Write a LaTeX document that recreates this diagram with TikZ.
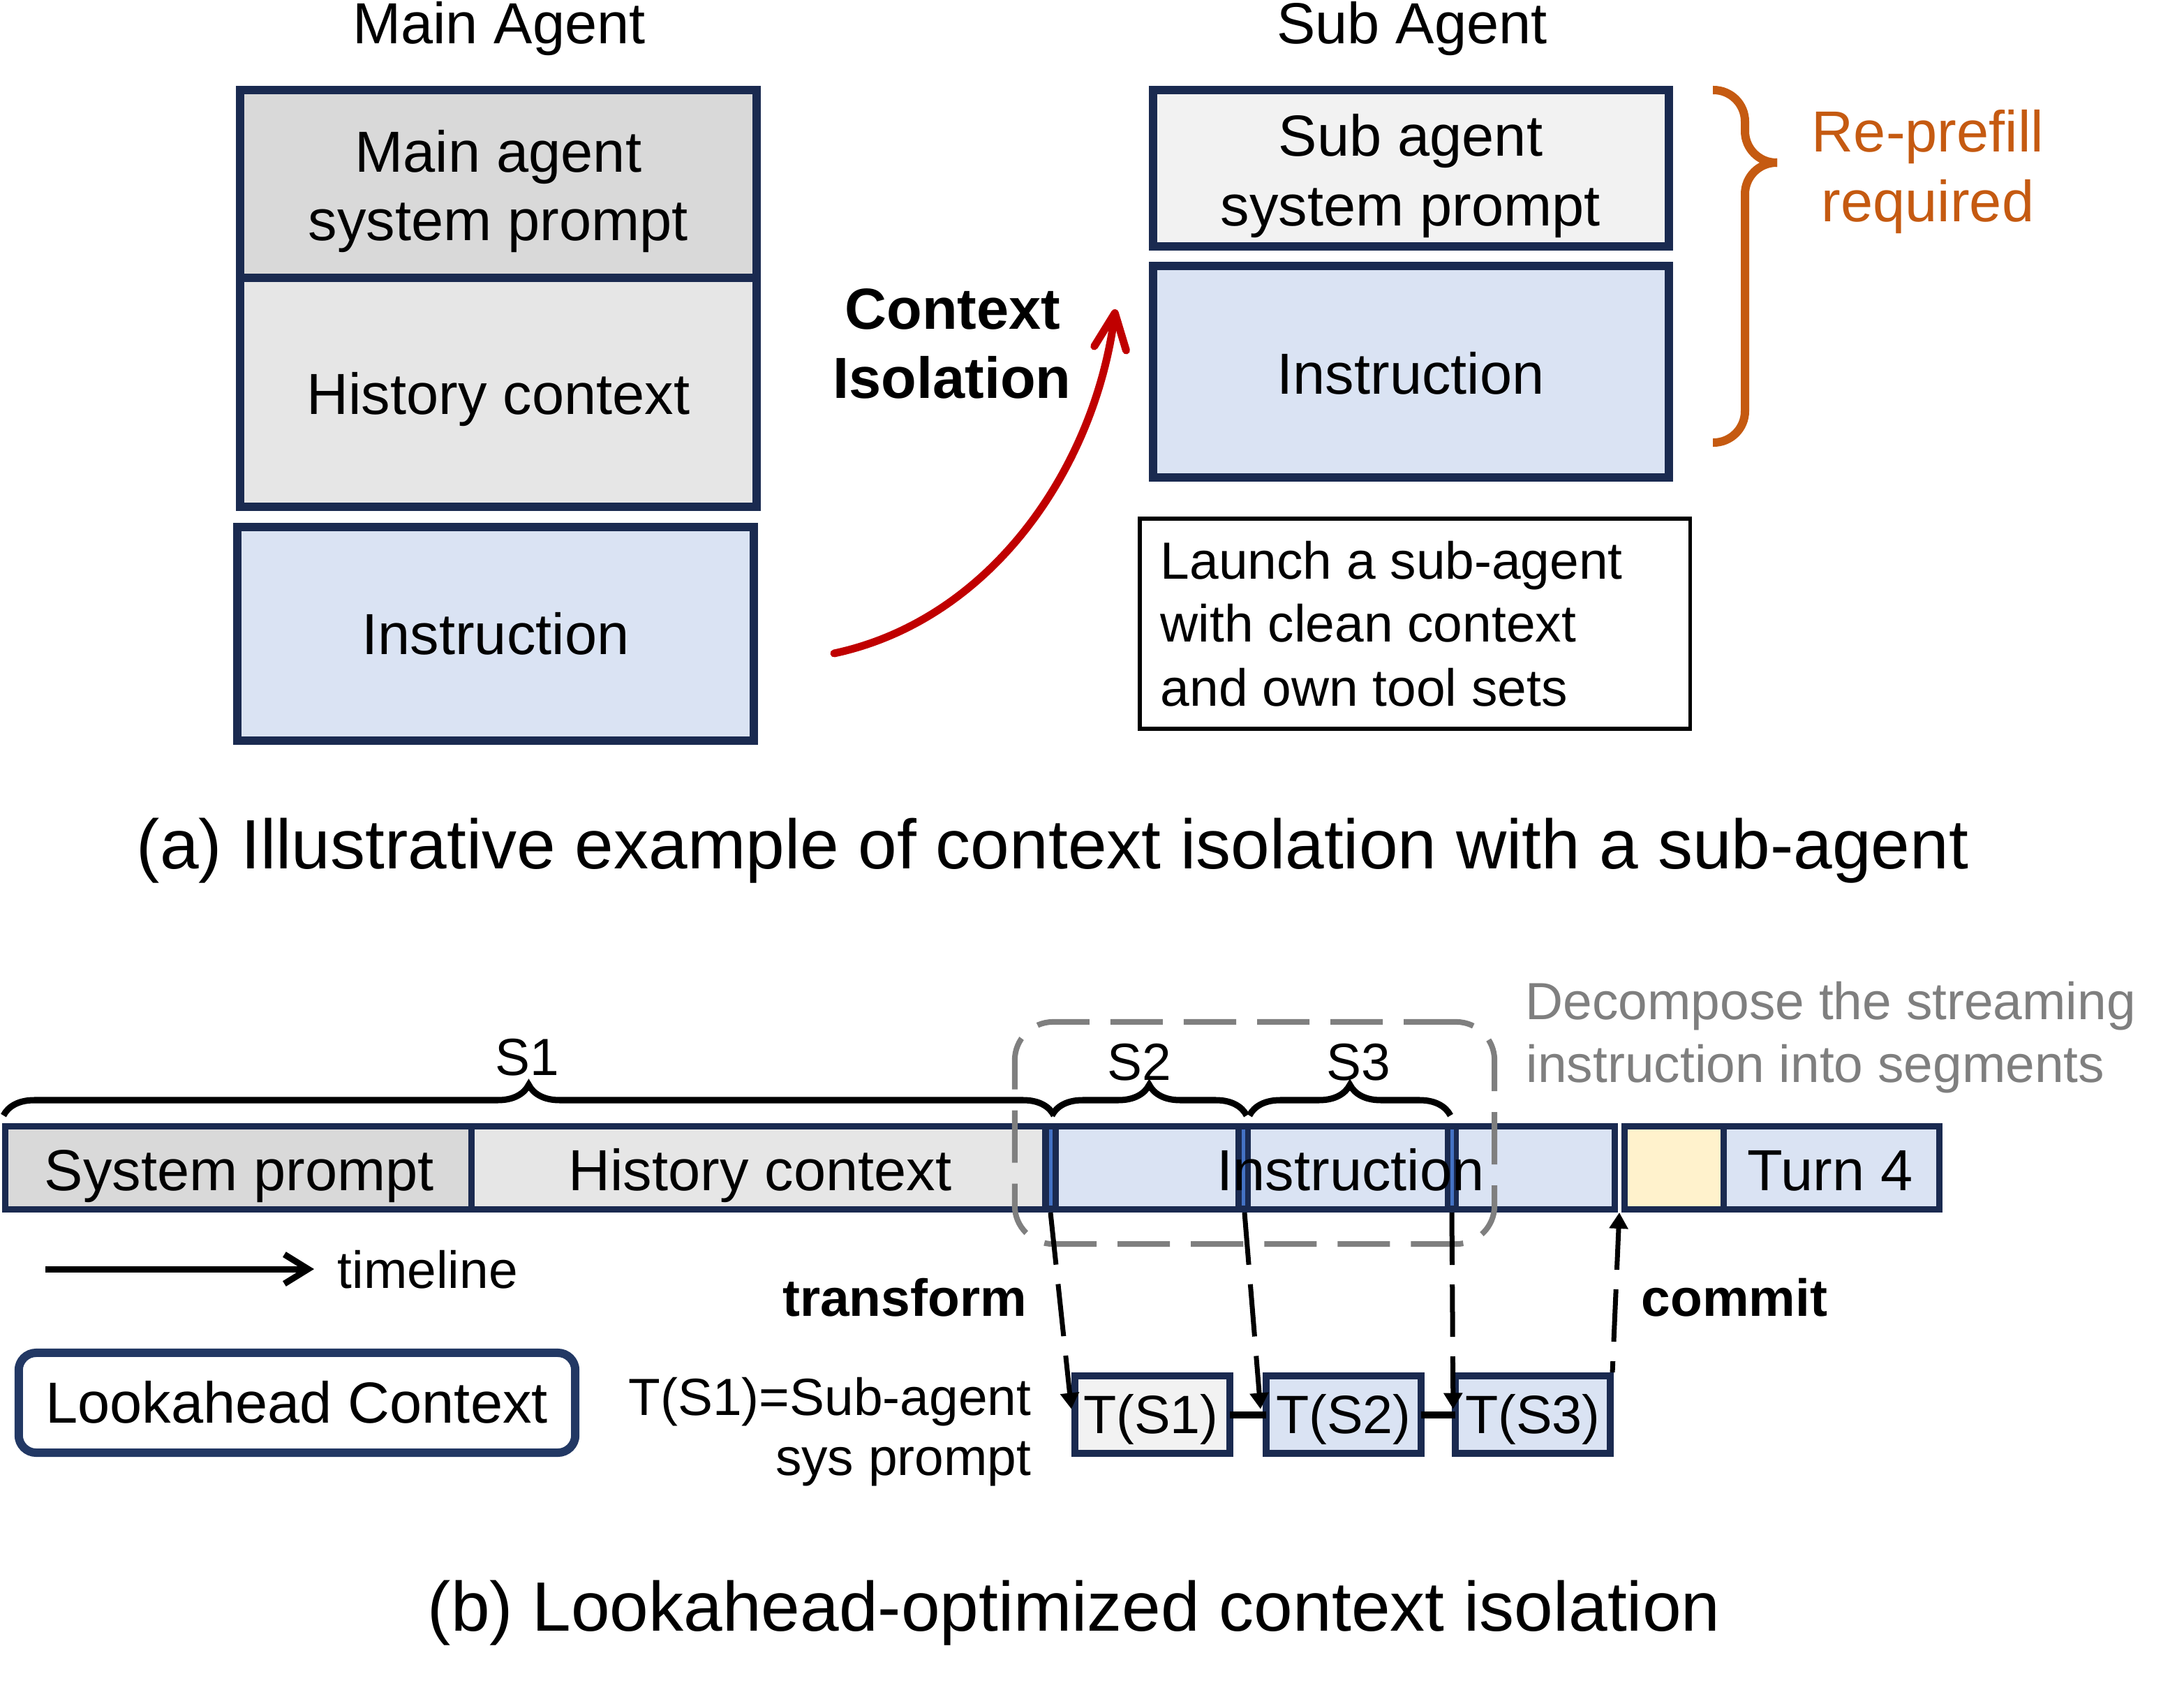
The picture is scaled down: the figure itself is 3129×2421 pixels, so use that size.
\documentclass[tikz,border=0pt]{standalone}
\usepackage{fontspec}
\setmainfont{Liberation Sans}
\usetikzlibrary{arrows.meta,decorations.pathreplacing,calc}
\definecolor{navy}{HTML}{1A2A50}
\definecolor{lkblue}{HTML}{223864}
\definecolor{spfill}{HTML}{D9D9D9}
\definecolor{hcfill}{HTML}{E6E6E6}
\definecolor{subfill}{HTML}{F2F2F2}
\definecolor{instfill}{HTML}{DAE3F3}
\definecolor{yelfill}{HTML}{FFF2CC}
\definecolor{sepblue}{HTML}{4472C4}
\definecolor{redc}{HTML}{C00000}
\definecolor{orangec}{HTML}{C55A11}
\definecolor{grayc}{HTML}{7F7F7F}
\begin{document}
\begin{tikzpicture}[x=0.01cm,y=-0.01cm,
  box/.style={draw=navy, line width=0.12cm, inner sep=0pt, outer sep=0pt},
  seg/.style={draw=navy, line width=0.09cm, inner sep=0pt, outer sep=0pt, minimum height=1.19cm},
  tbox/.style={draw=navy, line width=0.10cm, inner sep=0pt, outer sep=0pt, minimum width=2.22cm, minimum height=1.11cm},
  big/.style={font=\fontsize{23.6pt}{28.3pt}\selectfont, inner sep=0pt, anchor=base},
  bigb/.style={font=\fontsize{23.6pt}{28.3pt}\selectfont\bfseries, inner sep=0pt, anchor=base},
  small/.style={font=\fontsize{21.3pt}{25.6pt}\selectfont, inner sep=0pt, anchor=base},
  smallb/.style={font=\fontsize{21.3pt}{25.6pt}\selectfont\bfseries, inner sep=0pt, anchor=base},
  tlab/.style={font=\fontsize{22pt}{26pt}\selectfont, inner sep=0pt, anchor=base},
  captxt/.style={font=\fontsize{28.45pt}{34pt}\selectfont, inner sep=0pt, anchor=base west},
  brc/.style={line width=0.09cm, decorate, decoration={brace, amplitude=0.44cm}},
  tarrow/.style={line width=0.07cm, dash pattern=on 0.75cm off 0.28cm, -{Triangle[length=0.23cm,width=0.26cm]}},
]
\useasboundingbox (0,0) rectangle (3129,2421);

% ---------------- (a) ----------------
\node[box, fill=spfill, minimum width=7.40cm, minimum height=2.69cm] (msp) at (714,263.5) {};
\node[box, fill=hcfill, minimum width=7.40cm, minimum height=3.28cm] (mhc) at (714,562) {};
\node[box, fill=instfill, minimum width=7.40cm, minimum height=3.06cm] (mins) at (710,908) {};

\node[box, fill=subfill, minimum width=7.39cm, minimum height=2.24cm] (ssp) at (2021.5,241) {};
\node[box, fill=instfill, minimum width=7.39cm, minimum height=3.03cm] (sins) at (2021.5,532.5) {};
\node[draw=black, line width=0.055cm, inner sep=0pt, outer sep=0pt, minimum width=7.88cm, minimum height=3.01cm] (launch) at (2027,893.5) {};

\node[big] (tmain) at (715,62) {Main Agent};
\node[big] (tmsp1) at (714,246) {Main agent};
\node[big] (tmsp2) at (714,344) {system prompt};
\node[big] (tmhc) at (714,593) {History context};
\node[big] (tmins) at (710,937) {Instruction};

\node[big] (tsub) at (2023,62) {Sub Agent};
\node[big] (tssp1) at (2021,223) {Sub agent};
\node[big] (tssp2) at (2021,323) {system prompt};
\node[big] (tsins) at (2021,564) {Instruction};

\node[small, anchor=base west] (tl1) at (1662,829) {Launch a sub-agent};
\node[small, anchor=base west] (tl2) at (1662,919) {with clean context};
\node[small, anchor=base west] (tl3) at (1662,1011) {and own tool sets};

\node[bigb] (tci1) at (1365,471) {Context};
\node[bigb] (tci2) at (1364,570) {Isolation};

\node[big, text=orangec] (trp1) at (2762,217) {Re-prefill};
\node[big, text=orangec] (trp2) at (2762,317) {required};

% orange brace
\draw[orangec, line width=0.12cm, rounded corners=0.45cm] (2454,129) -- (2500,129) -- (2500,233) -- (2546,233);
\draw[orangec, line width=0.12cm, rounded corners=0.45cm] (2546,233) -- (2500,233) -- (2500,634) -- (2454,634);

% red arrow
\coordinate (ra) at (1195,936);
\coordinate (rb) at (1598,443);
\draw[redc, line width=0.11cm, line cap=round, -{Straight Barb[length=0.51cm,width=0.46cm,round]}] (ra) .. controls (1420,888) and (1568,671) .. (rb);

\node[captxt] (capa) at (195,1244) {(a) Illustrative example of context isolation with a sub-agent};

% ---------------- (b) ----------------
\node[seg, fill=spfill, minimum width=6.68cm] (bsp) at (341.5,1673) {};
\node[seg, fill=hcfill, minimum width=8.22cm] (bhc) at (1086.5,1673) {};
\node[seg, fill=instfill, minimum width=8.16cm] (binst) at (1905.5,1673) {};
\node[seg, fill=yelfill, minimum width=1.42cm] (byel) at (2398.5,1673) {};
\node[seg, fill=instfill, minimum width=3.09cm] (bt4) at (2624,1673) {};

\draw[navy, line width=0.24cm] (1505,1609) -- (1505,1737);
\draw[navy, line width=0.22cm] (1781,1609) -- (1781,1737);
\draw[navy, line width=0.20cm] (2080,1609) -- (2080,1737);
\draw[sepblue, line width=0.05cm] (1505,1618) -- (1505,1727);
\draw[sepblue, line width=0.05cm] (1781,1618) -- (1781,1727);
\draw[sepblue, line width=0.05cm] (2080,1618) -- (2080,1727);

\node[big] (tbsp) at (343,1705) {System prompt};
\node[big] (tbhc) at (1089,1705) {History context};
\node[big] (tbinst) at (1935,1705) {Instruction};
\node[big] (tbt4) at (2622,1705) {Turn 4};

% dashed grey group
\node[draw=grayc, line width=0.08cm, dash pattern=on 0.75cm off 0.30cm, rounded corners=0.55cm, inner sep=0pt, outer sep=0pt, minimum width=6.87cm, minimum height=3.18cm] (grp) at (1797.5,1623) {};

\node[small, anchor=base west, text=grayc] (tdec1) at (2185,1460) {Decompose the streaming};
\node[small, anchor=base west, text=grayc] (tdec2) at (2186,1550) {instruction into segments};

% braces
\draw[brc] (5,1598) -- (1510,1598);
\draw[brc] (1507,1598) -- (1786,1598);
\draw[brc] (1790,1598) -- (2078,1598);
\node[small] (ts1lab) at (755,1540) {S1};
\node[small] (ts2lab) at (1632,1547) {S2};
\node[small] (ts3lab) at (1946,1547) {S3};

% T boxes
\node[tbox, fill=subfill] (ts1) at (1651,2026.5) {};
\node[tbox, fill=instfill] (ts2) at (1925,2026.5) {};
\node[tbox, fill=instfill] (ts3) at (2196,2026.5) {};
\node[tlab] (tts1) at (1649,2053) {T(S1)};
\node[tlab] (tts2) at (1925,2053) {T(S2)};
\node[tlab] (tts3) at (2196,2053) {T(S3)};
\draw[line width=0.10cm] (ts1.east) -- (ts2.west);
\draw[line width=0.10cm] (ts2.east) -- (ts3.west);

% transform / commit arrows
\coordinate (d1) at (1505,1737);
\coordinate (d2) at (1783,1737);
\coordinate (d3) at (2080,1737);
\coordinate (cm) at (2320,1737);
\draw[tarrow] (d1) -- ($(ts1.west)+(-5,-8)$);
\draw[tarrow] (d2) -- ($(ts2.west)+(-8,-8)$);
\draw[tarrow] (d3) -- ($(ts3.west)+(-3,-8)$);
\draw[tarrow, dash phase=0.59cm] ($(ts3.north east)+(3,-5)$) -- (cm);

\node[smallb] (ttrans) at (1296,1885) {transform};
\node[smallb] (tcommit) at (2485,1885) {commit};

% timeline
\coordinate (tla) at (65,1818);
\coordinate (tlb) at (450,1818);
\draw[line width=0.09cm, -{Straight Barb[length=0.34cm,width=0.42cm]}] (tla) -- (tlb);
\node[small, anchor=base west] (ttl) at (483,1845) {timeline};

% lookahead legend
\node[draw=lkblue, line width=0.12cm, rounded corners=0.25cm, inner sep=0pt, outer sep=0pt, minimum width=7.97cm, minimum height=1.43cm] (lk) at (425.5,2009.5) {};
\node[big] (tlk) at (425,2038) {Lookahead Context};

\node[small, anchor=base east] (tsub1) at (1478,2027) {T(S1)=Sub-agent};
\node[small, anchor=base east] (tsub2) at (1478,2113) {sys prompt};

\node[captxt] (capb) at (612,2336) {(b) Lookahead-optimized context isolation};
\end{tikzpicture}
\end{document}
